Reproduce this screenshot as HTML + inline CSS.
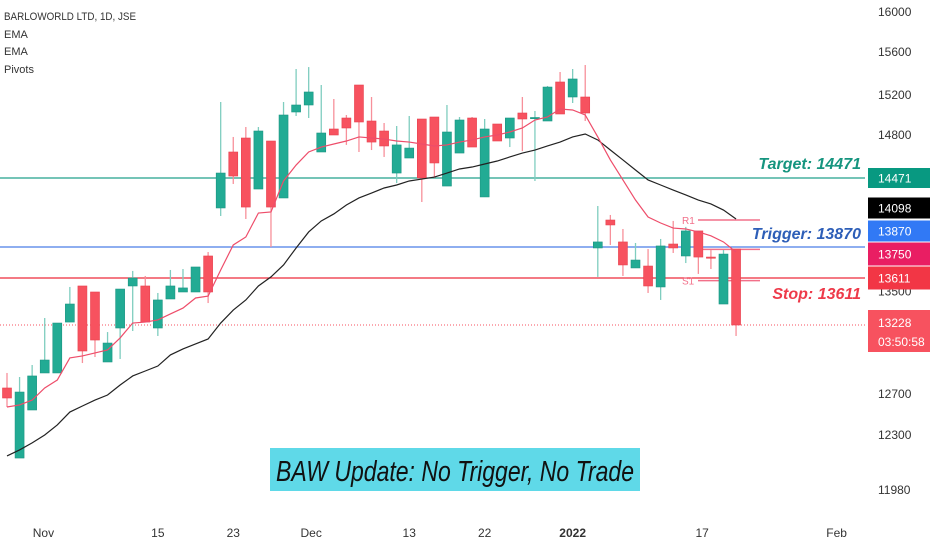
<!DOCTYPE html>
<html><head><meta charset="utf-8">
<style>
html,body{margin:0;padding:0;background:#fff;}
svg{display:block;font-family:"Liberation Sans",sans-serif;}
</style></head>
<body>
<svg id="chart" width="932" height="550" viewBox="0 0 932 550" xmlns="http://www.w3.org/2000/svg">
<g id="lines"></g>
<g id="candles"></g>
<g id="emas"></g>
<g id="overlay"></g>
<g id="axis"></g>
</svg>
<script>
const opens  =[12746,12166,12544,12861,12861,13252,13546,13497,12945,13205,13546,13546,13205,13440,13497,13497,13795,14210,14670,14777,14375,14754,14297,15030,15100,14670,14860,14970,15293,14940,14840,14509,14624,14960,14980,14401,14662,14970,14306,14910,14777,15020,14970,14940,15321,15180,15180,13862,14105,13914,13695,13711,13538,13896,13795,14010,13786,13399,13853];
const highs  =[12861,12830,12922,13285,13244,13538,13546,13497,13174,13521,13670,13628,13489,13678,13686,13703,13828,15130,14785,14880,14880,14754,15130,15442,15460,15293,15160,15000,15293,15180,14920,14890,14990,14960,14980,15100,14980,14980,14960,14910,14970,15180,15040,15284,15414,15442,15479,14227,14149,14027,13905,13853,13940,14097,14045,14010,13845,13845,13853];
const lows   =[12573,12166,12544,12861,12861,13252,12937,12983,12945,12968,13182,13252,13144,13440,13497,13497,13407,14140,14419,14114,14375,13870,14297,14990,14970,14670,14800,14724,14670,14685,14632,14427,14624,14262,14471,14401,14662,14708,14306,14754,14708,14677,14445,14940,15010,15120,14940,13620,13888,13628,13695,13489,13432,13820,13736,13645,13686,13399,13144];
const closes =[12661,12715,12838,12960,13244,13399,13029,13113,13090,13521,13611,13252,13432,13546,13530,13703,13497,14509,14486,14218,14840,14218,15000,15100,15228,14820,14800,14870,14930,14746,14716,14724,14700,14471,14586,14830,14950,14708,14860,14754,14970,14960,14975,15274,15010,15349,15020,13914,14062,13720,13761,13546,13879,13862,14010,13786,13778,13811,13228];
const emaFast=[12573,12593,12641,12746,12807,12976,12991,13014,13037,13129,13244,13252,13269,13318,13366,13448,13464,13678,13888,13957,14166,14175,14445,14570,14670,14708,14731,14754,14785,14777,14769,14754,14746,14731,14716,14724,14746,14762,14785,14800,14830,14870,14950,14980,15060,15050,15000,14785,14609,14454,14279,14131,14079,14035,14027,14001,13967,13914,13828];
const emaSlow=[12178,12213,12254,12300,12398,12524,12583,12641,12690,12769,12838,12876,12914,12999,13045,13083,13121,13244,13350,13432,13546,13620,13720,13862,14001,14097,14158,14236,14297,14340,14384,14410,14445,14462,14478,14509,14540,14555,14578,14601,14632,14662,14685,14716,14746,14785,14810,14762,14685,14609,14532,14454,14410,14366,14323,14279,14245,14192,14114];
const yTicks=[16000,15600,15200,14800,13500,12700,12300,11980];
const xLabels=["Nov","15","23","Dec","13","22","2022","17","Feb"];
const xLabelIdx=[2.9,12,18,24.2,32,38,45,55.3,66];
const target=14471, trigger=13870, stop=13611, lastPrice=13228;
const pivotR1=14105, pivotP=13850, pivotS1=13590;

const NS="http://www.w3.org/2000/svg";
const scalePts=[[12,16000],[52,15600],[95,15200],[135,14800],[178,14471],[247,13870],[278,13611],[325,13228],[394,12700],[435,12300],[490,11980]];
function y(p){
  for(let i=0;i<scalePts.length-1;i++){
    const [y0,p0]=scalePts[i],[y1,p1]=scalePts[i+1];
    if(p<=p0&&p>=p1) return y0+(p0-p)/(p0-p1)*(y1-y0);
  }
  if(p>scalePts[0][1]) return 12-(p-16000)*0.1;
  return 490+(11980-p)*0.17;
}
function x(i){return 7+i*12.57;}
function mk(tag,attrs,parent){const e=document.createElementNS(NS,tag);for(const k in attrs)e.setAttribute(k,attrs[k]);parent.appendChild(e);return e;}
const G=document.getElementById('candles'),L=document.getElementById('lines'),E=document.getElementById('emas'),O=document.getElementById('overlay'),A=document.getElementById('axis');

function hline(p,color,name,dash){
  const l=mk('line',{x1:0,x2:865,y1:y(p),y2:y(p),stroke:color,'stroke-width':dash?1:1.3,'stroke-dasharray':dash||''},L);
  
  
}
hline(target,'#22a08c','target-line');
hline(trigger,'#4a7de8','trigger-line');
hline(stop,'#ee2b3b','stop-line');
hline(lastPrice,'#f7525f','last-price-line','1,2');

[[pivotR1,'pivot-r1','R1'],[pivotP,'pivot-p',''],[pivotS1,'pivot-s1','S1']].forEach(d=>{
  const l=mk('line',{x1:698,x2:760,y1:y(d[0]),y2:y(d[0]),stroke:'#f2708a','stroke-width':1.5},L);
  
  
  if(d[2]){const t=mk('text',{x:682,y:y(d[0])+4,'font-size':10,fill:'#f2708a'},L);t.textContent=d[2];
  
  }
});

for(let i=0;i<opens.length;i++){
  const up=closes[i]>=opens[i];
  const col=up?'#22ab94':'#f7525f';
  const g=mk('g',{},G);
  
  
  mk('line',{x1:x(i),x2:x(i),y1:y(highs[i]),y2:y(lows[i]),stroke:up?'#7fcdbf':'#f7909a','stroke-width':1.3},g);
  const top=y(Math.max(opens[i],closes[i])),bot=y(Math.min(opens[i],closes[i]));
  mk('rect',{x:x(i)-4.5,y:top,width:9,height:Math.max(1.2,bot-top),fill:col,stroke:up?'#1a9482':'#e8424f','stroke-width':0.6},g);
}
function poly(arr,color,name){
  const p=mk('polyline',{points:arr.map((v,i)=>x(i)+','+y(v)).join(' '),fill:'none',stroke:color,'stroke-width':1.2},E);
  
  
}
poly(emaSlow,'#222','ema-slow-line');
poly(emaFast,'#ee4d6a','ema-fast-line');

function ann(txt,p,color,name,dy){
  const t=mk('text',{x:861,y:y(p)+dy,'text-anchor':'end','font-size':16,'font-style':'italic','font-weight':'bold',fill:color},O);
  t.textContent=txt;
  
  
}
ann('Target: '+target,target,'#16957f','target-label',-9);
ann('Trigger: '+trigger,trigger,'#2e5fb8','trigger-label',-8);
ann('Stop: '+stop,stop,'#ee3a4a','stop-label',21);

const axBg=mk('rect',{x:866,y:0,width:66,height:550,fill:'#fff'},A);


yTicks.forEach(v=>{const t=mk('text',{x:878,y:y(v)+4,'font-size':12,fill:'#333'},A);t.textContent=v;

});
function box(txt,cy,h,bg,name,txt2){
  const g=mk('g',{},A);
  
  
  mk('rect',{x:868,y:cy-h/2,width:62,height:h,fill:bg},g);
  const t=mk('text',{x:878,y:txt2?cy-4:cy+4.5,'font-size':12,fill:'#fff'},g);t.textContent=txt;
  if(txt2){const t2=mk('text',{x:878,y:cy+15,'font-size':12,fill:'#fff'},g);t2.textContent=txt2;}
}
box(String(target),178,20,'#089981','target-price-box');
box('14098',208,21,'#000','ema-slow-box');
box(String(trigger),231,21,'#3179f5','trigger-price-box');
box('13750',254,23,'#e91e63','ema-fast-box');
box(String(stop),278,23,'#f23645','stop-price-box');
box(String(lastPrice),331,42,'#f7525f','last-price-box','03:50:58');
xLabels.forEach((s,k)=>{const t=mk('text',{x:x(xLabelIdx[k]),y:537,'font-size':12,'text-anchor':'middle',fill:'#333','font-weight':s==='2022'?'bold':'normal'},A);t.textContent=s;

});
</script>
<svg style="position:absolute;left:0;top:0" width="932" height="550" xmlns="http://www.w3.org/2000/svg">
<g font-family="Liberation Sans, sans-serif" font-size="11" fill="#333">
<text x="4" y="20" textLength="132" lengthAdjust="spacingAndGlyphs">BARLOWORLD LTD, 1D, JSE</text>
<text x="4" y="38">EMA</text>
<text x="4" y="55">EMA</text>
<text x="4" y="73">Pivots</text>
</g>
<g>
<rect x="270" y="448" width="370" height="43" fill="#5fd9e8"/>
<text x="455" y="481" text-anchor="middle" font-family="Liberation Sans, sans-serif" font-size="29" font-style="italic" fill="#111" textLength="358" lengthAdjust="spacingAndGlyphs">BAW Update: No Trigger, No Trade</text>
</g>
</svg>
</body></html>
